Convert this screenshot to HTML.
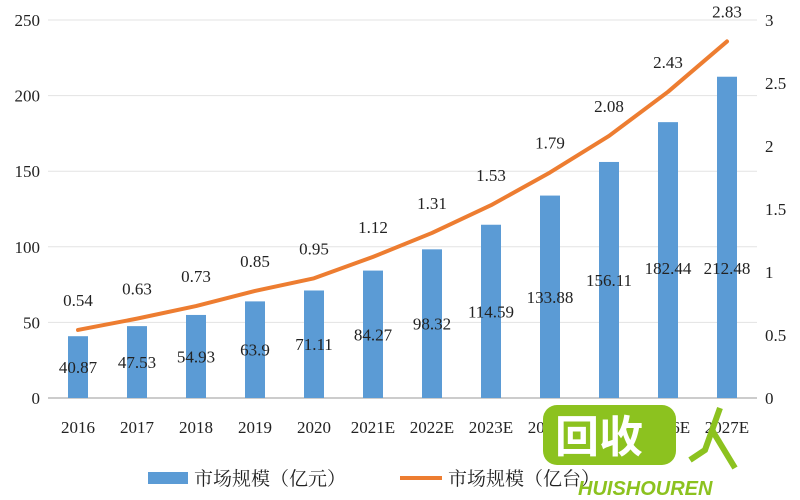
<!DOCTYPE html>
<html><head><meta charset="utf-8">
<style>
html,body{margin:0;padding:0;background:#fff;width:800px;height:500px;overflow:hidden}
svg text{font-family:"Liberation Serif","Noto Serif CJK SC",serif;fill:#222}
</style></head>
<body>
<svg id="chart" width="800" height="500" xmlns="http://www.w3.org/2000/svg">
<g id="grid"></g><g id="bars"></g><g id="line"></g><g id="labels"></g>
<g>
<rect x="148" y="472" width="40" height="12" fill="#5b9bd5"/>
<text x="194" y="485" font-size="19">市场规模（亿元）</text>
<line x1="400" y1="478" x2="442" y2="478" stroke="#ed7d31" stroke-width="4"/>
<text x="448" y="485" font-size="19">市场规模（亿台）</text>
</g>
<g>
<rect x="543" y="405" width="133" height="60" rx="14" fill="#8cc21f"/>
<text x="555" y="452" font-size="44" font-weight="bold" style="fill:#fff;font-family:'Noto Sans CJK SC',sans-serif">回收</text>
<path d="M720 408 L705 450 L690 460 M712 430 L735 468" stroke="#8cc21f" stroke-width="6" fill="none"/>
<text x="578" y="495" font-size="20" font-weight="bold" font-style="italic" style="fill:#8cc21f;font-family:'Liberation Sans',sans-serif">HUISHOUREN</text>
</g>
</svg>
<script>
const categories=["2016","2017","2018","2019","2020","2021E","2022E","2023E","2024E","2025E","2026E","2027E"];
const marketValue=[40.87,47.53,54.93,63.9,71.11,84.27,98.32,114.59,133.88,156.11,182.44,212.48];
const marketUnits=[0.54,0.63,0.73,0.85,0.95,1.12,1.31,1.53,1.79,2.08,2.43,2.83];
const leftTicks=[0,50,100,150,200,250];
const rightTicks=["0","0.5","1","1.5","2","2.5","3"];
const NS="http://www.w3.org/2000/svg";
const y0=398,yTop=20,xL=48,xR=757;
const yL=v=>y0-(v/250)*(y0-yTop);
const yR=v=>y0-(v/3)*(y0-yTop);
const xC=i=>78+i*59;
function mk(tag,attrs,parent,txt){const e=document.createElementNS(NS,tag);for(const k in attrs)e.setAttribute(k,attrs[k]);if(txt!==undefined)e.textContent=txt;document.getElementById(parent).appendChild(e);return e;}
leftTicks.forEach(t=>{
  const g=mk("line",{x1:xL,x2:xR,y1:yL(t),y2:yL(t),stroke:t===0?"#bbb":"#e3e3e3","stroke-width":t===0?1.5:1},"grid");
  
  
  const l=mk("text",{x:40,y:yL(t)+6,"text-anchor":"end","font-size":17},"labels",t);
  
  
});
rightTicks.forEach(t=>{
  const l=mk("text",{x:765,y:yR(+t)+6,"font-size":17},"labels",t);
  
  
});
categories.forEach((c,i)=>{
  const l=mk("text",{x:xC(i),y:433,"text-anchor":"middle","font-size":17},"labels",c);
  
  
  const v=marketValue[i];
  const b=mk("rect",{x:xC(i)-10,y:yL(v),width:20,height:y0-yL(v),fill:"#5b9bd5"},"bars");
  
  
  const ly=Math.max((yL(v)+y0)/2,268)+6;
  const bl=mk("text",{x:xC(i),y:ly,"text-anchor":"middle","font-size":17},"labels",v);
  
  
  const u=marketUnits[i];
  const ul=mk("text",{x:xC(i),y:yR(u)-24,"text-anchor":"middle","font-size":17},"labels",u.toFixed(2));
  
  
});
const pts=marketUnits.map((u,i)=>xC(i)+","+yR(u)).join(" ");
const pl=mk("polyline",{points:pts,fill:"none",stroke:"#ed7d31","stroke-width":4,"stroke-linejoin":"round","stroke-linecap":"round"},"line");


</script>
</body></html>
